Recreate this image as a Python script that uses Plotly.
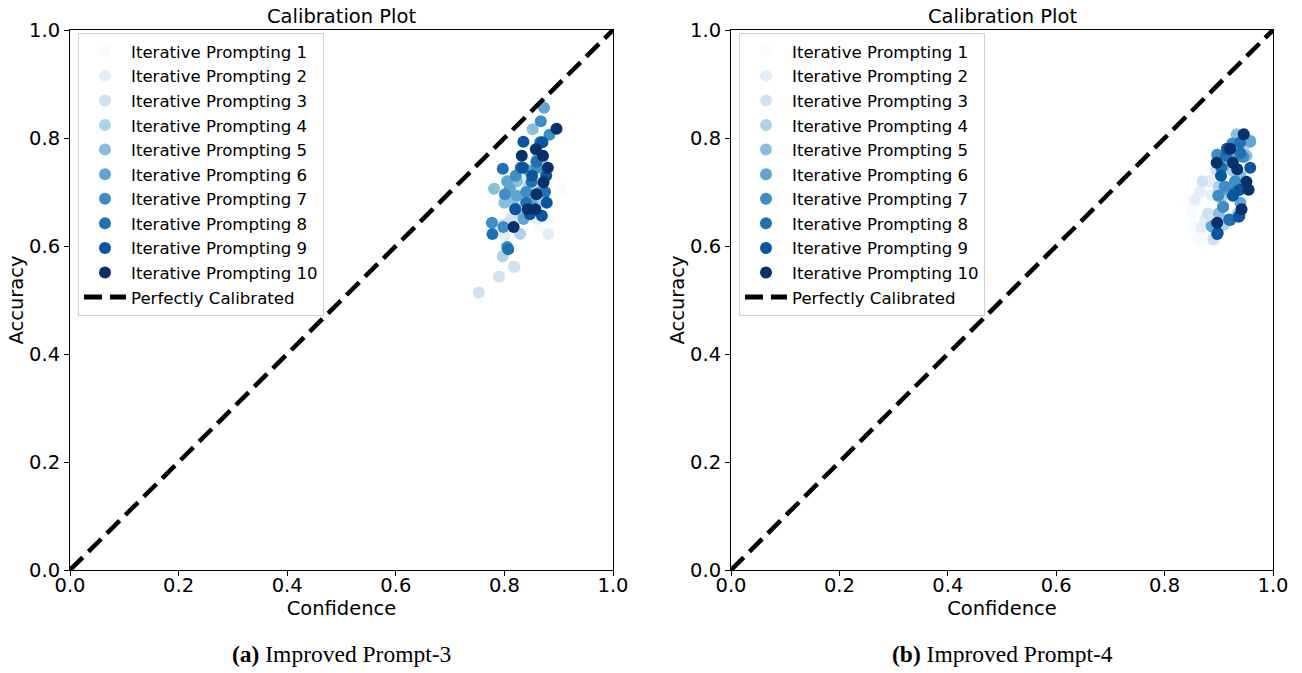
import plotly.graph_objects as go

# ---------------- data ----------------
series_names = [f"Iterative Prompting {i}" for i in range(1, 11)]
colors = ["#f7fbff", "#e3eef9", "#cfe1f2", "#b0d2e8", "#89bedc",
          "#60a6d2", "#3e8ec4", "#2070b4", "#0b559f", "#08306b"]
ticks = [0.0, 0.2, 0.4, 0.6, 0.8, 1.0]
tick_labels = ["0.0", "0.2", "0.4", "0.6", "0.8", "1.0"]
diag_x = [0.0, 1.0]
diag_y = [0.0, 1.0]

# Panel (a) Improved Prompt-3
a_x = [
    [0.905, 0.767, 0.862, 0.753, 0.840, 0.880, 0.825, 0.870],
    [0.881, 0.790, 0.818, 0.845, 0.860, 0.800, 0.835, 0.870],
    [0.790, 0.753, 0.818, 0.812, 0.840, 0.855, 0.830, 0.800],
    [0.797, 0.829, 0.815, 0.845, 0.862, 0.835, 0.870, 0.810],
    [0.852, 0.781, 0.810, 0.823, 0.835, 0.860, 0.842, 0.875, 0.800],
    [0.873, 0.810, 0.823, 0.835, 0.805, 0.850, 0.845, 0.865, 0.820],
    [0.867, 0.883, 0.777, 0.801, 0.821, 0.805, 0.798, 0.840, 0.860],
    [0.797, 0.778, 0.807, 0.866, 0.859, 0.850, 0.875, 0.840, 0.830],
    [0.835, 0.870, 0.834, 0.877, 0.851, 0.820, 0.847, 0.869, 0.878],
    [0.896, 0.832, 0.858, 0.871, 0.880, 0.872, 0.859, 0.843, 0.857, 0.817],
]
a_y = [
    [0.706, 0.635, 0.635, 0.505, 0.700, 0.650, 0.680, 0.740],
    [0.622, 0.640, 0.560, 0.690, 0.650, 0.620, 0.720, 0.700],
    [0.543, 0.514, 0.562, 0.650, 0.700, 0.720, 0.660, 0.640],
    [0.581, 0.622, 0.680, 0.710, 0.680, 0.745, 0.760, 0.705],
    [0.816, 0.706, 0.690, 0.720, 0.655, 0.760, 0.700, 0.740, 0.680],
    [0.856, 0.706, 0.693, 0.650, 0.720, 0.680, 0.740, 0.700, 0.670],
    [0.831, 0.806, 0.643, 0.696, 0.730, 0.598, 0.635, 0.700, 0.745],
    [0.743, 0.622, 0.594, 0.792, 0.756, 0.719, 0.700, 0.680, 0.745],
    [0.793, 0.792, 0.745, 0.730, 0.730, 0.668, 0.659, 0.656, 0.680],
    [0.817, 0.767, 0.779, 0.767, 0.745, 0.718, 0.696, 0.668, 0.668, 0.635],
]

# Panel (b) Improved Prompt-4
b_x = [
    [0.850, 0.853, 0.862, 0.875, 0.868, 0.845, 0.890],
    [0.883, 0.868, 0.856, 0.887, 0.875, 0.890, 0.865],
    [0.890, 0.880, 0.900, 0.870, 0.885, 0.895],
    [0.910, 0.905, 0.925, 0.945, 0.900, 0.935, 0.915],
    [0.933, 0.951, 0.920, 0.900, 0.940, 0.910, 0.958],
    [0.958, 0.908, 0.887, 0.930, 0.915, 0.900, 0.940],
    [0.897, 0.930, 0.899, 0.908, 0.911, 0.925, 0.945],
    [0.939, 0.913, 0.919, 0.940, 0.921, 0.905, 0.930],
    [0.958, 0.939, 0.926, 0.904, 0.937, 0.938, 0.898, 0.897, 0.915],
    [0.946, 0.921, 0.896, 0.926, 0.934, 0.951, 0.955, 0.942, 0.897],
]
b_y = [
    [0.659, 0.636, 0.611, 0.704, 0.620, 0.680, 0.612],
    [0.720, 0.635, 0.685, 0.694, 0.650, 0.612, 0.700],
    [0.612, 0.660, 0.700, 0.720, 0.640, 0.740],
    [0.640, 0.690, 0.740, 0.780, 0.710, 0.660, 0.760],
    [0.807, 0.767, 0.700, 0.660, 0.730, 0.750, 0.795],
    [0.793, 0.673, 0.636, 0.770, 0.705, 0.760, 0.680],
    [0.769, 0.720, 0.693, 0.672, 0.710, 0.790, 0.765],
    [0.791, 0.767, 0.649, 0.772, 0.648, 0.745, 0.700],
    [0.745, 0.704, 0.693, 0.730, 0.654, 0.656, 0.624, 0.622, 0.780],
    [0.807, 0.780, 0.754, 0.754, 0.742, 0.719, 0.704, 0.668, 0.643],
]

panel_titles = ["Calibration Plot", "Calibration Plot"]
captions = ["<b>(a)</b> Improved Prompt-3", "<b>(b)</b> Improved Prompt-4"]

# ---------------- figure ----------------
W, H = 1302, 673
fig = go.Figure()

panels = [(a_x, a_y, "x", "y", "legend"), (b_x, b_y, "x2", "y2", "legend2")]
for px_, py_, xa, ya, lg in panels:
    for i in range(10):
        fig.add_trace(go.Scatter(
            x=px_[i], y=py_[i], mode="markers", name=series_names[i],
            marker=dict(color=colors[i], size=12, line=dict(width=0)),
            xaxis=xa, yaxis=ya, legend=lg, legendgroup=f"{lg}_{i}",
        ))
    fig.add_trace(go.Scatter(
        x=diag_x, y=diag_y, mode="lines", name="Perfectly Calibrated",
        line=dict(color="black", width=4.5, dash="18px,8px"),
        xaxis=xa, yaxis=ya, legend=lg, legendgroup=f"{lg}_diag",
    ))

def px2fx(p):
    return p / W

def py2fy(p):
    return 1 - p / H

ydom = [py2fy(570), py2fy(30)]
xdoms = [[px2fx(70), px2fx(613)], [px2fx(731), px2fx(1273)]]

FS = 19.5
axis_common = dict(
    range=[0, 1], tickvals=ticks, ticktext=tick_labels,
    showgrid=False, zeroline=False, showline=True, linecolor="black",
    linewidth=1, mirror=True, ticks="outside", ticklen=5, tickcolor="black",
    tickfont=dict(size=FS, color="black", family="DejaVu Sans"),
)

fig.update_layout(
    width=W, height=H, margin=dict(l=0, r=0, t=0, b=0, autoexpand=False),
    plot_bgcolor="white", paper_bgcolor="white",
    font=dict(family="DejaVu Sans", color="black"),
    xaxis=dict(domain=xdoms[0], anchor="y", ticklabelstandoff=-7, **axis_common,
               title=dict(text="Confidence", font=dict(size=FS), standoff=0)),
    yaxis=dict(domain=ydom, anchor="x", **axis_common,
               title=dict(text="Accuracy", font=dict(size=FS), standoff=0)),
    xaxis2=dict(domain=xdoms[1], anchor="y2", ticklabelstandoff=-7, **axis_common,
                title=dict(text="Confidence", font=dict(size=FS), standoff=0)),
    yaxis2=dict(domain=ydom, anchor="x2", **axis_common,
                title=dict(text="Accuracy", font=dict(size=FS), standoff=0)),
    showlegend=True,
)

leg_common = dict(
    bgcolor="white", bordercolor="#d0d0d0", borderwidth=1,
    font=dict(size=16.6, family="DejaVu Sans", color="black"),
    xanchor="left", yanchor="top", traceorder="grouped", tracegroupgap=0,
    itemsizing="constant", itemwidth=42,
)
fig.update_layout(
    legend=dict(x=px2fx(78), y=py2fy(33), **leg_common),
    legend2=dict(x=px2fx(739), y=py2fy(33), **leg_common),
)

for k in range(2):
    cx = (xdoms[k][0] + xdoms[k][1]) / 2
    fig.add_annotation(text=panel_titles[k], x=cx, y=py2fy(16), xref="paper", yref="paper",
                       showarrow=False, font=dict(size=FS, family="DejaVu Sans", color="black"),
                       xanchor="center", yanchor="middle")
    fig.add_annotation(text=captions[k], x=cx, y=py2fy(654), xref="paper", yref="paper",
                       showarrow=False, font=dict(size=23.5, family="Liberation Serif", color="black"),
                       xanchor="center", yanchor="middle")

fig.write_html("out.html", config={"displayModeBar": False},
               post_script="document.body.style.margin='0';document.body.style.overflow='hidden';")
